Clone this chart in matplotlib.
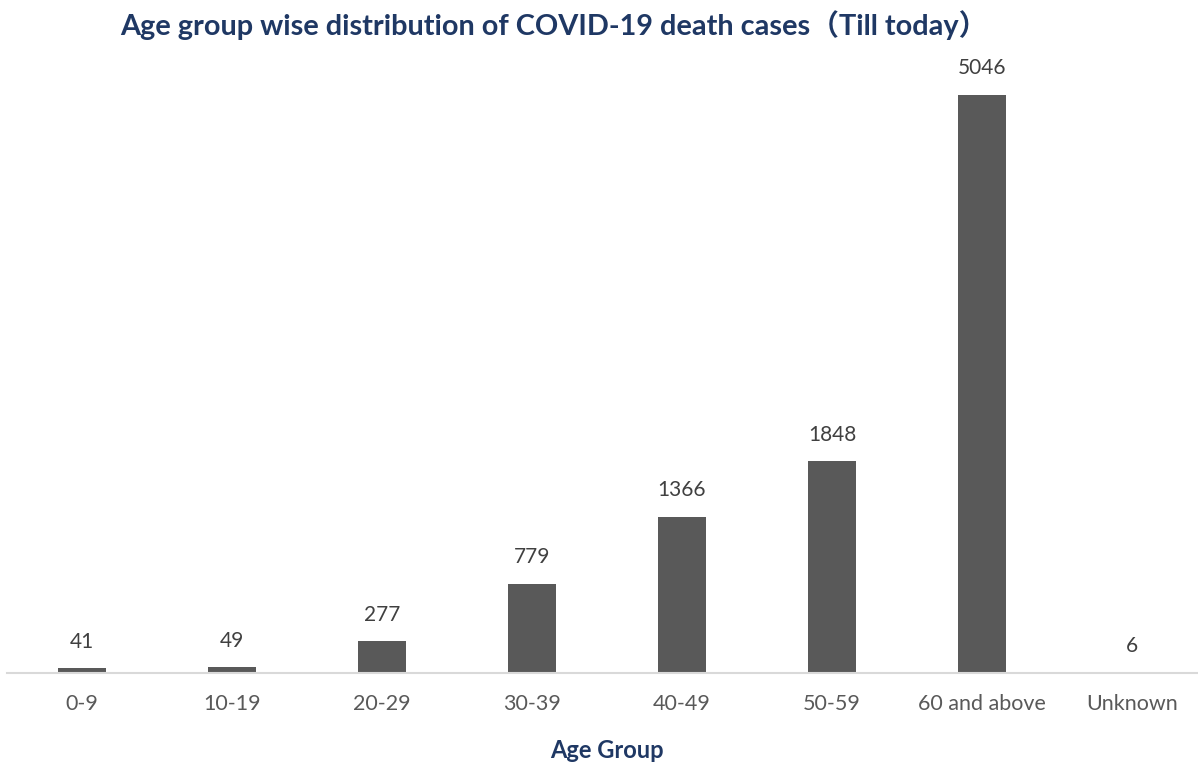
import matplotlib
matplotlib.use("Agg")
import matplotlib.pyplot as plt

categories = ["0-9", "10-19", "20-29", "30-39", "40-49", "50-59", "60 and above", "Unknown"]
deaths = [41, 49, 277, 779, 1366, 1848, 5046, 6]

W, H = 1198, 765
fig = plt.figure(figsize=(W / 100, H / 100), dpi=100)
ax = fig.add_axes([7 / W, 1 - 673 / H, 1200 / W, (673 - 60) / H])

font = "Lato"
x = range(len(categories))
ax.bar(x, deaths, width=0.315, color="#595959", zorder=2)
ymax = 5046 * 613 / 578
ax.set_ylim(0, ymax)
ax.set_xlim(-0.5, len(categories) - 0.5)

for xi, v in zip(x, deaths):
    ax.annotate(str(v), (xi, v), xytext=(0, 12), textcoords="offset points",
                ha="center", va="bottom", fontsize=15, color="#404040", family=font)

for s in ["top", "right", "left"]:
    ax.spines[s].set_visible(False)
ax.spines["bottom"].set_color("#D9D9D9")
ax.spines["bottom"].set_linewidth(1.5)
ax.set_yticks([])
ax.set_xticks(list(x))
ax.set_xticklabels(categories, fontsize=15.5, color="#595959", family=font)
ax.tick_params(axis="x", length=0, pad=15)

ax.set_xlabel("Age Group", fontsize=17, fontweight="bold", color="#1F3864",
              family=font, labelpad=18)
fig.text(554 / W, 1 - 25 / H, "Age group wise distribution of COVID-19 death cases\uff08Till today\uff09",
         ha="center", va="center", fontsize=20.8, fontweight="bold", color="#1F3864",
         family=[font, "Noto Sans CJK SC"])

fig.savefig("out.png", dpi=100)
